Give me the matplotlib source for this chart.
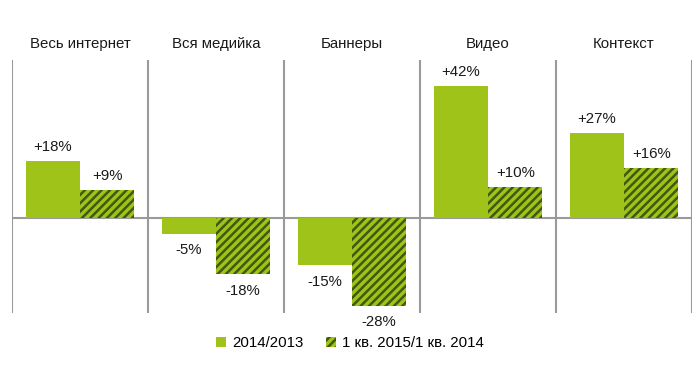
import matplotlib.pyplot as plt
import numpy as np

plt.rcParams['font.family'] = ['Liberation Sans', 'DejaVu Sans']
plt.rcParams['hatch.linewidth'] = 1.8

categories = ['Весь интернет', 'Вся медийка', 'Баннеры', 'Видео', 'Контекст']
year_vals = [18, -5, -15, 42, 27]
q1_vals = [9, -18, -28, 10, 16]
year_label = '2014/2013'
q1_label = '1 кв. 2015/1 кв. 2014'

green = '#a0c31a'
dark = '#3f5a0c'
grey = '#9a9a9a'
fs = 10.8

fig = plt.figure(figsize=(7, 3.65), dpi=100)
ax = fig.add_axes([12 / 700, 52 / 365, 680 / 700, 253 / 365])

x = np.arange(len(categories))
w = 0.4
b1 = ax.bar(x - w, year_vals, width=w, align='edge', color=green, lw=0, label=year_label)
b2 = ax.bar(x, q1_vals, width=w, align='edge', facecolor=green, edgecolor=dark,
            hatch='////', lw=0, label=q1_label)

ax.set_xlim(-0.5, len(categories) - 0.5)
ax.set_ylim(-30.3, 50.3)
for s in ax.spines.values():
    s.set_visible(False)
ax.set_xticks([])
ax.set_yticks([])

for i in range(len(categories) + 1):
    ax.axvline(i - 0.5, color=grey, lw=1.5, zorder=0)
ax.axhline(0, color=grey, lw=1.5, zorder=0)

def lab(xc, v):
    off = 10 if v > 0 else -12
    ax.annotate(f'{v:+d}%', (xc, v), xytext=(0, off), textcoords='offset points',
                ha='center', va='center', fontsize=fs, color='#1a1a1a')

for i in range(len(categories)):
    lab(x[i] - w / 2, year_vals[i])
    lab(x[i] + w / 2, q1_vals[i])
    ax.text(x[i], 1.0 + 16 / 253, categories[i], transform=ax.get_xaxis_transform(),
            ha='center', va='center', fontsize=fs, color='#1a1a1a')

fig.legend(handles=[b1, b2], labels=[year_label, q1_label], loc='center',
           bbox_to_anchor=(0.5, 1 - 343 / 365), ncol=2, frameon=False, fontsize=fs,
           handlelength=0.7, handleheight=0.7, handletextpad=0.4, columnspacing=1.5)

fig.savefig('out.png', dpi=100)
